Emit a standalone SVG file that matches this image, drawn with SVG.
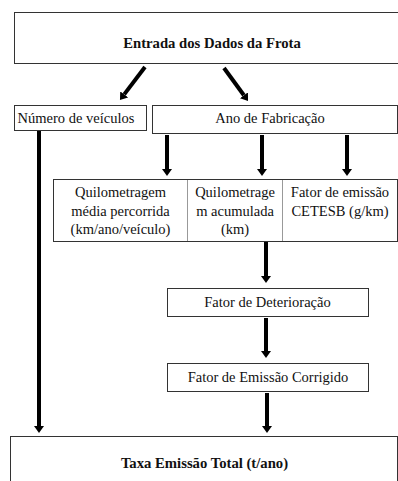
<svg xmlns="http://www.w3.org/2000/svg" width="398" height="481" viewBox="0 0 398 481">
<style>
.box{fill:#fff;stroke:#333;stroke-width:1}
.div{stroke:#999;stroke-width:1}
.t{font-family:"Liberation Serif","Times New Roman",serif;font-size:14.5px;fill:#111;text-anchor:middle}
.b{font-weight:bold;font-size:14.7px}
.c{stroke:#000;stroke-width:4;fill:none}
</style>
<defs>
<marker id="ah" markerUnits="userSpaceOnUse" viewBox="0 0 7 10" markerWidth="7" markerHeight="10" refX="0" refY="5" orient="auto">
<path d="M0,0 L7,5 L0,10 z" fill="#000"/>
</marker>
</defs>
<rect width="398" height="481" fill="#fff"/>
<g id="entrada">
<rect class="box" x="14.5" y="12.5" width="400" height="51"/>
<text class="t b" x="212" y="48">Entrada dos Dados da Frota</text>
</g>
<g id="numero">
<rect class="box" x="14.5" y="105.5" width="132" height="25"/>
<text class="t" x="76" y="123">Número de veículos</text>
</g>
<g id="ano">
<rect class="box" x="152.5" y="105.5" width="245" height="28"/>
<text class="t" x="270" y="123">Ano de Fabricação</text>
</g>
<g id="parametros">
<rect class="box" x="53.5" y="179.5" width="344" height="62"/>
<line class="div" x1="187.5" y1="180" x2="187.5" y2="241"/>
<line class="div" x1="282.5" y1="180" x2="282.5" y2="241"/>
<g id="quilometragem-media">
<text class="t" x="120.5" y="197">Quilometragem</text>
<text class="t" x="120.5" y="215.5">média percorrida</text>
<text class="t" x="120.5" y="234">(km/ano/veículo)</text>
</g>
<g id="quilometragem-acumulada">
<text class="t" x="235" y="197">Quilometrage</text>
<text class="t" x="235" y="215.5">m acumulada</text>
<text class="t" x="235" y="234">(km)</text>
</g>
<g id="fator-emissao">
<text class="t" x="340" y="197">Fator de emissão</text>
<text class="t" x="340" y="215.5">CETESB (g/km)</text>
</g>
</g>
<g id="deterioracao">
<rect class="box" x="167.5" y="288.5" width="201" height="28"/>
<text class="t" x="267.5" y="307">Fator de Deterioração</text>
</g>
<g id="corrigido">
<rect class="box" x="167.5" y="363.5" width="201" height="28"/>
<text class="t" x="268" y="382">Fator de Emissão Corrigido</text>
</g>
<g id="taxa">
<rect class="box" x="10.5" y="436.5" width="387" height="60"/>
<text class="t b" x="204.5" y="468">Taxa Emissão Total (t/ano)</text>
</g>
<g id="connectors">
<line class="c" x1="145" y1="67" x2="124.2" y2="94.4" marker-end="url(#ah)"/>
<line class="c" x1="224" y1="68" x2="243.9" y2="95.3" marker-end="url(#ah)"/>
<line class="c" x1="39" y1="131" x2="39" y2="426" marker-end="url(#ah)"/>
<line class="c" x1="167" y1="135" x2="167" y2="169" marker-end="url(#ah)"/>
<line class="c" x1="262" y1="135" x2="262" y2="169" marker-end="url(#ah)"/>
<line class="c" x1="347" y1="135" x2="347" y2="169" marker-end="url(#ah)"/>
<line class="c" x1="266" y1="242" x2="266" y2="276" marker-end="url(#ah)"/>
<line class="c" x1="266" y1="318" x2="266" y2="351" marker-end="url(#ah)"/>
<line class="c" x1="267" y1="393" x2="267" y2="426" marker-end="url(#ah)"/>
</g>
</svg>
